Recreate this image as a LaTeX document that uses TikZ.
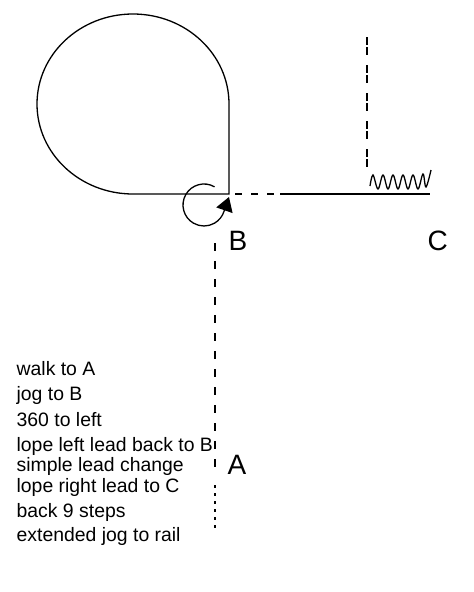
\documentclass[tikz,border=0pt]{standalone}
\usepackage{fontspec}
\setmainfont{Liberation Sans}
\usetikzlibrary{arrows.meta}

\begin{document}
\begin{tikzpicture}[x=1pt,y=-1pt,line width=1.3pt,
	letter/.style={font=\fontsize{28}{28}\selectfont,inner sep=0pt,anchor=base west},
	cue/.style={font=\fontsize{19.4}{20}\selectfont,inner sep=0pt,anchor=base west}]
	\useasboundingbox (0,0) rectangle (474,592);
	% points of the pattern
	\coordinate (b) at (229,194);
	\coordinate (c) at (430,194);
	\coordinate (dashend) at (280,194);
	\coordinate (loopbot) at (133,194);
	\coordinate (looptop) at (229,104);
	\coordinate (turn) at (214.5,186.8);
	\coordinate (tip) at (229,197);
	\coordinate (railtop) at (367,37);
	\coordinate (railbot) at (367,167);
	\coordinate (atop) at (215,243);
	\coordinate (amid) at (215,470);
	\coordinate (dottop) at (215,485);
	\coordinate (abot) at (215,528);
	% loop and 360
	\draw (loopbot) -- (b) -- (looptop) arc[start angle=0,end angle=-270,x radius=96,y radius=90];
	\draw[-{Triangle[length=14pt,width=17pt]}] (turn) arc[start angle=-60,end angle=-342,radius=21] -- (tip);
	% line to C
	\draw[dash pattern=on 7pt off 9pt,dash phase=10pt] (b) -- (dashend);
	\draw (dashend) -- (c);
	\draw[dash pattern=on 8pt off 2pt on 8pt off 10pt] (railtop) -- (railbot);
	\draw[line width=1.3pt] plot[smooth,tension=0.6] coordinates {(370,186) (373,175) (378,189) (383,175) (388,189) (393,175) (398,189) (403,175) (408,189) (413,175) (418,189) (423,174) (426,187) (431,170)};
	% line from A
	\draw[dash pattern=on 8pt off 10pt] (atop) -- (amid);
	\draw[dash pattern=on 3pt off 5pt] (dottop) -- (abot);
	% labels
	\node[letter] (lblB) at (228,250) {B};
	\node[letter] (lblC) at (427,250) {C};
	\node[letter] (lblA) at (227,474) {A};
	\foreach \y/\t [count=\i] in {375/walk to A, 400/jog to B, 426/360 to left, 451/lope left lead back to B, 471/simple lead change, 492/lope right lead to C, 517/back 9 steps, 541/extended jog to rail}
	\node[cue] (cue\i) at (16,\y) {\t};
\end{tikzpicture}
\end{document}
